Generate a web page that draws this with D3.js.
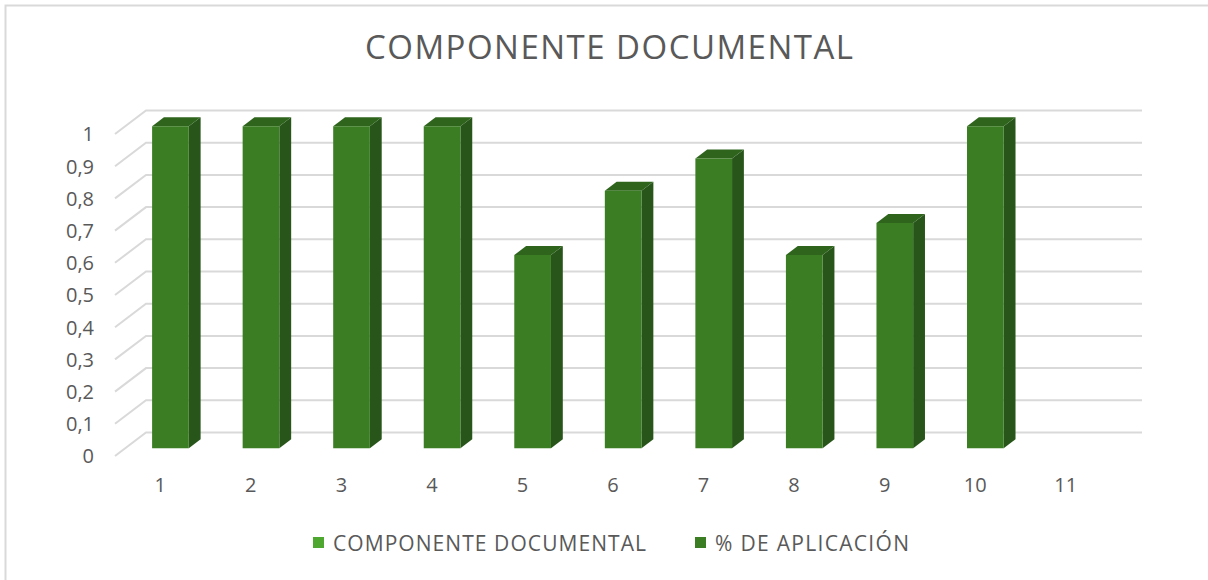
<!DOCTYPE html>
<html>
<head>
<meta charset="utf-8">
<script src="https://cdn.jsdelivr.net/npm/d3@7"></script>
<style>
  html, body { margin: 0; padding: 0; background: #fff; }
  svg { display: block; }
  text { font-family: "Open Sans", "Noto Sans", sans-serif; fill: #595959; }
</style>
</head>
<body>
<svg id="chart" width="1208" height="580"></svg>
<script>
// Chart data
const categories = ["1", "2", "3", "4", "5", "6", "7", "8", "9", "10", "11"];
const componenteDocumental = [null, null, null, null, null, null, null, null, null, null, null];
const porcentajeAplicacion = [1, 1, 1, 1, 0.6, 0.8, 0.9, 0.6, 0.7, 1, null];
const yTicks = [0, 0.1, 0.2, 0.3, 0.4, 0.5, 0.6, 0.7, 0.8, 0.9, 1];
const seriesNames = ["COMPONENTE DOCUMENTAL", "% DE APLICACIÓN"];
const seriesColors = ["#4ea72e", "#3a7d22"];
const chartTitle = "COMPONENTE DOCUMENTAL";

const svg = d3.select("#chart");
const W = 1208, H = 580;

// frame
svg.append("path")
  .attr("d", `M5.5,${H} V5.5 H${W}`)
  .attr("fill", "none").attr("stroke", "#d9d9d9").attr("stroke-width", 2);

// back wall geometry and oblique depth projection
const backLeft = 146, backRight = 1142;
const depthDX = -31, depthDY = 23.5;
const x = d3.scaleBand().domain(categories).range([backLeft, backRight]).paddingInner(0).paddingOuter(0);
const y = d3.scaleLinear().domain([0, 1]).range([432.5, 110.5]);
const proj = (px, py, z) => [px + depthDX * z, py + depthDY * z];

// gridlines on back wall + diagonal on left side wall
const grid = svg.append("g").attr("stroke", "#d9d9d9").attr("stroke-width", 2).attr("fill", "none");
yTicks.forEach(t => {
  const yy = y(t);
  const f = proj(backLeft, yy, 1);
  grid.append("path").attr("d", `M${f[0]},${f[1]} L${backLeft},${yy} L${backRight},${yy}`);
});

// y axis labels
const yFmt = v => String(v).replace(".", ",");
svg.append("g").selectAll("text").data(yTicks).join("text")
  .attr("x", 94)
  .attr("y", d => proj(backLeft, y(d), 1)[1] + 2)
  .attr("text-anchor", "end")
  .attr("dominant-baseline", "middle")
  .attr("font-size", 20)
  .text(yFmt);

// category labels along the front edge of the floor
svg.append("g").selectAll("text").data(categories).join("text")
  .attr("x", d => proj(x(d) + x.bandwidth() / 2, 0, 1)[0])
  .attr("y", 492)
  .attr("text-anchor", "middle")
  .attr("font-size", 20)
  .text(d => d);

// 3D columns for the plotted series
const zFront = 0.672, zBack = 0.29;
const barFrac = 0.405;
const colFront = "#3a7d22", colSide = "#28561a", colTop = "#2e641c";
const bars = svg.append("g");
categories.forEach((c, i) => {
  const v = porcentajeAplicacion[i];
  if (v == null) return;
  const bw = x.bandwidth() * barFrac;
  const x0 = x(c) + (x.bandwidth() - bw) / 2, x1 = x0 + bw;
  const yb = y(0), yt = y(v);
  const F = (px, py) => proj(px, py, zFront);
  const B = (px, py) => proj(px, py, zBack);
  const pts = a => a.map(p => p.join(",")).join(" ");
  // side
  bars.append("polygon").attr("fill", colSide)
    .attr("points", pts([F(x1, yb), B(x1, yb), B(x1, yt), F(x1, yt)]));
  // top
  bars.append("polygon").attr("fill", colTop)
    .attr("points", pts([F(x0, yt), F(x1, yt), B(x1, yt), B(x0, yt)]));
  // front
  bars.append("polygon").attr("fill", colFront)
    .attr("points", pts([F(x0, yb), F(x1, yb), F(x1, yt), F(x0, yt)]));
});

// title
svg.append("text")
  .attr("x", 609).attr("y", 59)
  .attr("text-anchor", "middle")
  .attr("font-size", 33)
  .attr("textLength", 488)
  .attr("lengthAdjust", "spacing")
  .text(chartTitle);

// legend
const legend = svg.append("g").attr("font-size", 21);
const legendX = [313, 695];
const legendW = [313, 194];
seriesNames.forEach((n, i) => {
  legend.append("rect").attr("x", legendX[i]).attr("y", 537).attr("width", 11).attr("height", 11)
    .attr("fill", seriesColors[i]);
  legend.append("text").attr("x", legendX[i] + 20).attr("y", 550.5)
    .attr("textLength", legendW[i]).attr("lengthAdjust", "spacing")
    .text(n);
});
</script>
</body>
</html>
